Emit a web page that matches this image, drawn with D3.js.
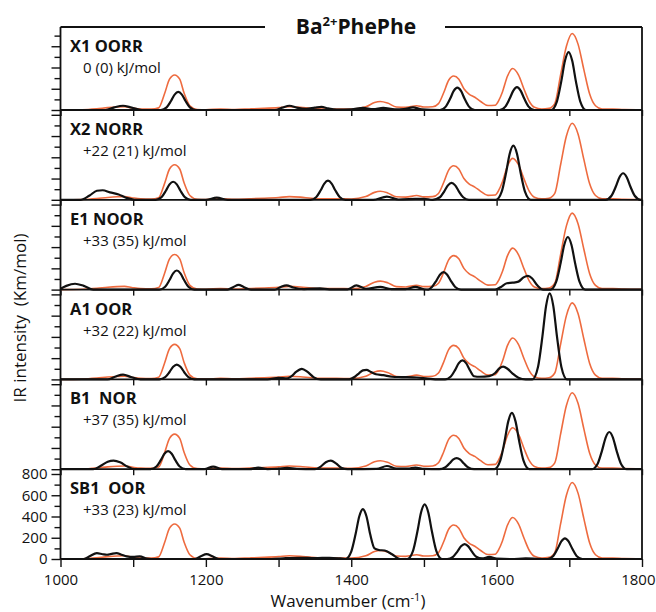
<!DOCTYPE html>
<html>
<head>
<meta charset="utf-8">
<script src="https://cdn.jsdelivr.net/npm/d3@7"></script>
<style>
  html, body { margin: 0; padding: 0; background: #ffffff; }
  svg { display: block; }
  text { font-family: "Open Sans", "DejaVu Sans", sans-serif; fill: #111; }
</style>
</head>
<body>
<svg id="chart" width="656" height="612"></svg>
<script>
// ---------------- DATA ----------------
const chartTitle = "Ba";
const xTickValues = [1000, 1100, 1200, 1300, 1400, 1500, 1600, 1700, 1800];
const xTickLabels = [1000, 1200, 1400, 1600, 1800];
const yTickValues = [0, 100, 200, 300, 400, 500, 600, 700, 800];
const yTickLabels = [0, 200, 400, 600, 800];

const panelNames = ["X1 OORR", "X2 NORR", "E1 NOOR", "A1 OOR", "B1  NOR", "SB1  OOR"];
const panelEnergies = ["0 (0) kJ/mol", "+22 (21) kJ/mol", "+33 (35) kJ/mol", "+32 (22) kJ/mol", "+37 (35) kJ/mol", "+33 (23) kJ/mol"];

// Experimental IRMPD spectrum (orange), [wavenumber, intensity]
const experimental = [[1000,0],[1030,3],[1050,12],[1065,22],[1078,28],[1088,30],[1098,20],[1110,10],[1125,8],[1135,20],[1143,150],[1150,290],[1157,330],[1164,290],[1170,160],[1178,40],[1188,5],[1200,3],[1220,10],[1240,5],[1260,10],[1280,15],[1300,22],[1315,30],[1330,25],[1345,15],[1360,10],[1380,10],[1400,8],[1420,30],[1432,70],[1440,80],[1450,65],[1462,28],[1475,25],[1490,40],[1500,28],[1512,30],[1520,60],[1527,160],[1534,280],[1541,320],[1548,290],[1555,200],[1562,150],[1570,120],[1578,80],[1588,42],[1598,45],[1603,90],[1608,170],[1615,320],[1622,390],[1630,330],[1638,190],[1645,80],[1652,25],[1662,10],[1672,15],[1680,60],[1688,330],[1696,600],[1704,720],[1712,620],[1720,380],[1728,150],[1736,40],[1745,10],[1760,10],[1775,5],[1800,3]];

// Computed spectra (black), [wavenumber, intensity]
const calcX1 = [[1000,0],[1062,0],[1074,25],[1086,40],[1098,22],[1112,0],[1138,0],[1146,25],[1152,85],[1157,145],[1162,170],[1167,145],[1172,85],[1178,25],[1186,0],[1295,0],[1305,22],[1315,40],[1325,22],[1338,10],[1350,22],[1359,30],[1368,15],[1380,3],[1400,5],[1416,20],[1430,8],[1444,20],[1460,6],[1472,8],[1485,25],[1497,5],[1522,0],[1530,32],[1536,105],[1541,180],[1546,210],[1551,180],[1556,105],[1562,32],[1570,0],[1604,0],[1612,32],[1618,108],[1623,183],[1628,215],[1633,183],[1638,108],[1644,32],[1652,0],[1675,0],[1683,82],[1689,272],[1694,463],[1699,545],[1704,463],[1709,272],[1715,82],[1723,0],[1800,0]];

const calcX2 = [[1000,0],[1028,0],[1040,40],[1050,85],[1058,90],[1068,70],[1080,50],[1090,20],[1102,0],[1131,0],[1139,25],[1145,85],[1150,145],[1155,170],[1160,145],[1165,85],[1171,25],[1179,0],[1200,0],[1215,20],[1230,0],[1344,0],[1352,27],[1358,90],[1363,153],[1368,180],[1373,153],[1378,90],[1384,27],[1392,0],[1430,0],[1449,30],[1465,3],[1488,8],[1500,10],[1512,0],[1522,24],[1528,80],[1533,136],[1538,160],[1543,136],[1548,80],[1554,24],[1562,0],[1599,0],[1607,77],[1613,255],[1618,434],[1623,510],[1628,434],[1633,255],[1639,77],[1647,0],[1750,0],[1758,38],[1764,125],[1769,213],[1774,250],[1779,213],[1784,125],[1790,38],[1798,0],[1800,0]];

const calcE1 = [[1000,8],[1008,35],[1020,55],[1032,35],[1045,0],[1136,0],[1144,27],[1150,90],[1155,153],[1160,180],[1165,153],[1170,90],[1176,27],[1184,0],[1230,0],[1238,25],[1245,45],[1252,25],[1262,0],[1295,0],[1303,25],[1311,40],[1320,20],[1335,5],[1357,12],[1370,3],[1395,3],[1407,40],[1420,8],[1440,25],[1455,5],[1475,5],[1488,25],[1500,3],[1506,0],[1511,25],[1517,83],[1522,140],[1527,165],[1532,140],[1537,83],[1543,25],[1551,0],[1598,0],[1606,25],[1614,60],[1622,65],[1630,75],[1637,115],[1643,130],[1649,105],[1656,40],[1664,0],[1674,0],[1682,75],[1688,248],[1693,420],[1698,495],[1703,420],[1708,248],[1714,75],[1722,0],[1800,0]];

const calcA1 = [[1000,0],[1065,0],[1075,25],[1086,45],[1098,20],[1110,0],[1136,0],[1144,21],[1150,70],[1155,119],[1160,140],[1165,119],[1170,70],[1176,21],[1184,0],[1285,0],[1300,15],[1312,10],[1318,30],[1324,70],[1332,100],[1340,70],[1348,22],[1358,0],[1397,0],[1405,25],[1411,60],[1416,85],[1421,90],[1427,70],[1434,48],[1444,40],[1456,25],[1470,22],[1490,18],[1505,8],[1520,0],[1529,0],[1537,27],[1543,90],[1548,153],[1553,180],[1558,153],[1563,90],[1569,30],[1577,25],[1590,30],[1598,60],[1604,105],[1609,120],[1615,100],[1622,55],[1630,15],[1640,0],[1649,0],[1657,120],[1663,405],[1668,690],[1673,810],[1678,690],[1683,405],[1689,120],[1697,0],[1800,0]];

const calcB1 = [[1000,0],[1045,0],[1055,30],[1065,70],[1073,80],[1082,65],[1092,25],[1102,0],[1124,0],[1132,25],[1138,85],[1143,145],[1148,170],[1153,145],[1158,85],[1164,25],[1172,0],[1198,0],[1210,25],[1222,0],[1260,0],[1272,15],[1285,0],[1300,5],[1312,12],[1325,3],[1350,0],[1358,25],[1365,65],[1372,80],[1379,55],[1387,10],[1395,0],[1435,3],[1449,30],[1462,5],[1478,5],[1488,15],[1500,3],[1521,0],[1529,16],[1535,53],[1540,90],[1545,105],[1550,90],[1555,53],[1561,16],[1569,0],[1597,0],[1605,80],[1611,265],[1616,450],[1621,530],[1626,450],[1631,265],[1637,80],[1645,0],[1731,0],[1739,52],[1745,175],[1750,298],[1755,350],[1760,298],[1765,175],[1771,52],[1779,0],[1800,0]];

const calcSB1 = [[1000,0],[1032,0],[1040,25],[1050,55],[1058,45],[1064,40],[1070,48],[1077,55],[1084,40],[1091,25],[1100,20],[1109,25],[1119,5],[1130,0],[1185,0],[1193,25],[1201,45],[1209,25],[1218,0],[1290,0],[1310,8],[1330,12],[1350,8],[1370,12],[1385,5],[1392,0],[1400,70],[1406,235],[1411,400],[1416,470],[1421,400],[1426,235],[1432,100],[1438,85],[1446,80],[1456,45],[1467,0],[1477,0],[1485,77],[1491,258],[1496,438],[1501,515],[1506,438],[1511,258],[1517,77],[1525,0],[1532,0],[1540,21],[1546,70],[1551,119],[1556,140],[1561,119],[1566,70],[1572,21],[1580,5],[1590,20],[1600,3],[1620,0],[1640,5],[1670,0],[1678,29],[1684,98],[1689,166],[1694,195],[1699,166],[1704,98],[1710,29],[1718,0],[1800,0]];

const calcSeries = [calcX1, calcX2, calcE1, calcA1, calcB1, calcSB1];

// ---------------- LAYOUT ----------------
const svg = d3.select("#chart");
const frameTop = 27;
const left = 60.5, right = 642;
const nPanels = panelNames.length;
const baseScale = d3.scaleLinear().domain([0, nPanels - 1]).range([110, 559]);
const panelPx = 85; // pixels for 800 units

const x = d3.scaleLinear().domain([1000, 1800]).range([left, right]);
const orange = "#ee6b3f";

const line = d3.line().curve(d3.curveMonotoneX);

for (let i = 0; i < nPanels; i++) {
  const base = baseScale(i);
  const top = i === 0 ? frameTop : baseScale(i - 1);
  const y = d3.scaleLinear().domain([0, 800]).range([base, base - panelPx]);
  line.x(d => x(d[0])).y(d => y(d[1]));

  const g = svg.append("g");

  // y ticks (left)
  const yAxis = d3.axisLeft(y)
    .tickValues(yTickValues.filter(v => y(v) >= top + 2))
    .tickSize(6)
    .tickFormat(v => (i === nPanels - 1 && yTickLabels.includes(v)) ? v : "");
  const ya = g.append("g").attr("transform", `translate(${left},0)`).call(yAxis);
  ya.select(".domain").remove();
  ya.selectAll(".tick line").attr("stroke", "#111").attr("stroke-width", 1.4)
    .attr("x2", v => v % 200 === 0 ? -9 : -6);
  ya.selectAll(".tick text").attr("x", -13).style("font-size", "15px")
    .style("font-family", '"Open Sans", sans-serif').attr("fill", "#222");

  // x ticks (on baseline, pointing down)
  const xAxis = d3.axisBottom(x).tickValues(xTickValues).tickSize(i === nPanels - 1 ? 8 : 6)
    .tickFormat(v => (i === nPanels - 1 && xTickLabels.includes(v)) ? v : "");
  const xa = g.append("g").attr("transform", `translate(0,${base})`).call(xAxis);
  xa.select(".domain").remove();
  xa.selectAll(".tick line").attr("stroke", "#111").attr("stroke-width", 1.4);
  xa.selectAll(".tick text").attr("y", 15).style("font-size", "15px")
    .style("font-family", '"Open Sans", sans-serif').attr("fill", "#222");
  xa.selectAll(".tick text").filter(v => v === 1800)
    .attr("text-anchor", "end").attr("x", 13);

  // experimental spectrum
  g.append("path").datum(experimental).attr("d", line)
    .attr("fill", "none").attr("stroke", orange).attr("stroke-width", 1.6)
    .attr("stroke-linejoin", "round");
  // computed spectrum
  g.append("path").datum(calcSeries[i]).attr("d", line)
    .attr("fill", "none").attr("stroke", "#111").attr("stroke-width", 2.2)
    .attr("stroke-linejoin", "round");

  // baseline
  g.append("line").attr("x1", left).attr("x2", right).attr("y1", base).attr("y2", base)
    .attr("stroke", "#111").attr("stroke-width", 1.8);

  // labels
  g.append("text").attr("x", 70).attr("y", top + 25)
    .style("font-size", "16.5px").style("font-weight", "700")
    .attr("xml:space", "preserve").style("white-space", "pre")
    .text(panelNames[i]);
  g.append("text").attr("x", 83).attr("y", top + 46)
    .style("font-size", "15px").attr("fill", "#222")
    .text(panelEnergies[i]);
}

// frame
const bottom = baseScale(nPanels - 1);
svg.append("line").attr("x1", left).attr("x2", left).attr("y1", frameTop).attr("y2", bottom)
  .attr("stroke", "#111").attr("stroke-width", 1.8);
svg.append("line").attr("x1", right).attr("x2", right).attr("y1", frameTop).attr("y2", bottom)
  .attr("stroke", "#111").attr("stroke-width", 1.8);
svg.append("line").attr("x1", left).attr("x2", 265).attr("y1", frameTop).attr("y2", frameTop)
  .attr("stroke", "#111").attr("stroke-width", 1.8);
svg.append("line").attr("x1", 445).attr("x2", right).attr("y1", frameTop).attr("y2", frameTop)
  .attr("stroke", "#111").attr("stroke-width", 1.8);

// title
const title = svg.append("text").attr("x", 356).attr("y", 34).attr("text-anchor", "middle")
  .style("font-size", "21px").style("font-weight", "700");
title.append("tspan").text(chartTitle);
title.append("tspan").attr("dy", -8).style("font-size", "13px").text("2+");
title.append("tspan").attr("dy", 8).text("PhePhe");

// axis titles
const xl = svg.append("text").attr("x", 348).attr("y", 607).attr("text-anchor", "middle")
  .style("font-size", "17px").attr("fill", "#222");
xl.append("tspan").text("Wavenumber  (cm");
xl.append("tspan").attr("dy", -6).style("font-size", "11px").text("-1");
xl.append("tspan").attr("dy", 6).text(")");

svg.append("text").attr("transform", "translate(26,318) rotate(-90)").attr("text-anchor", "middle")
  .style("font-size", "17px").attr("fill", "#222")
  .attr("xml:space", "preserve").style("white-space", "pre")
  .text("IR intensity  (Km/mol)");
</script>
</body>
</html>
